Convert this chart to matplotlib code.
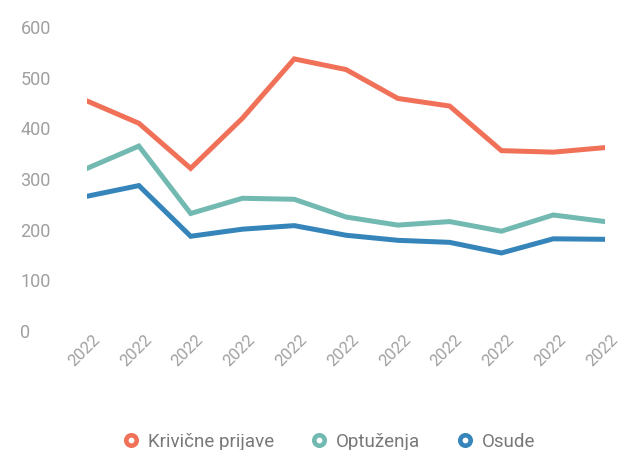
import matplotlib.pyplot as plt
import matplotlib.transforms as mtransforms
from matplotlib.lines import Line2D

plt.rcParams['font.family'] = ['Roboto', 'DejaVu Sans']

years = ["2022"] * 11
krivicne = [454, 410, 321, 420, 537, 516, 459, 444, 356, 353, 362]
optuzenja = [321, 365, 232, 262, 260, 225, 209, 216, 197, 229, 216]
osude = [266, 287, 187, 201, 208, 189, 179, 175, 154, 182, 181]

series = [
    ("Krivične prijave", krivicne, "#f07158"),
    ("Optuženja", optuzenja, "#72b9b1"),
    ("Osude", osude, "#3585bb"),
]

fig = plt.figure(figsize=(6.22, 4.5), dpi=100)
ax = fig.add_axes([0.14, 0.2644, 0.8327, 0.6756])

x = list(range(len(years)))
for name, vals, color in series:
    ax.plot(x, vals, color=color, lw=3.6, solid_joinstyle='miter', label=name)

ax.set_xlim(0, len(years) - 1)
ax.set_ylim(0, 600)
ax.set_yticks(range(0, 601, 100))
ax.set_xticks(x)
ax.set_xticklabels(years, rotation=45, ha='center', fontsize=12,
                   color='#a0a0a0')
ax.tick_params(axis='x', length=0, pad=1)
ax.tick_params(axis='y', length=0, pad=48, labelsize=13, labelcolor='#a0a0a0')
for lab in ax.get_yticklabels():
    lab.set_horizontalalignment('left')

# nudge the rotated year labels a little to the left
shift = mtransforms.ScaledTranslation(-3 / 100, 0, fig.dpi_scale_trans)
for lab in ax.get_xticklabels():
    lab.set_transform(lab.get_transform() + shift)

for s in ax.spines.values():
    s.set_visible(False)

handles = [Line2D([], [], ls='none', marker='o', ms=7.5, mew=3.3,
                  markerfacecolor='white', markeredgecolor=c)
           for _, _, c in series]
labels = [n for n, _, _ in series]
leg = fig.legend(handles, labels, loc='center', bbox_to_anchor=(0.53, 1 - 442 / 450),
                 ncol=3, frameon=False, fontsize=13.5, handlelength=0.8,
                 handletextpad=0.5, columnspacing=2.0)
for t in leg.get_texts():
    t.set_color('#787878')

fig.savefig("out.png", dpi=100)
